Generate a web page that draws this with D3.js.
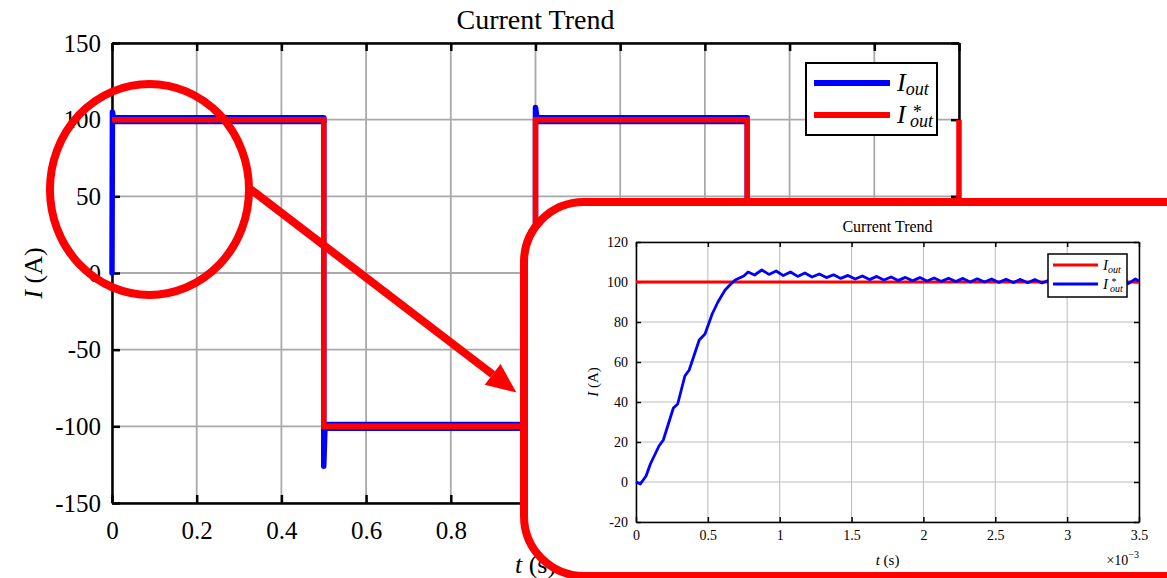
<!DOCTYPE html>
<html>
<head>
<meta charset="utf-8">
<script src="https://cdn.jsdelivr.net/npm/d3@7"></script>
<style>
  body { margin: 0; background: #fff; }
  svg { display: block; font-family: "Liberation Serif", "DejaVu Serif", "Times New Roman", serif; }
  svg text { font-family: "Liberation Serif", "DejaVu Serif", "Times New Roman", serif; }
</style>
</head>
<body>
<svg id="chart" width="1167" height="578"></svg>
<script>
// ---- main plot: reference square wave and measured output current ----
var mainXTicks = [0, 0.2, 0.4, 0.6, 0.8, 1, 1.2, 1.4, 1.6, 1.8, 2];
var mainYTicks = [-150, -100, -50, 0, 50, 100, 150];
var refTime = [0, 0.5, 0.5, 1.0, 1.0, 1.5, 1.5, 2.0, 2.0];
var refCurrent = [100, 100, -100, -100, 100, 100, -100, -100, 100];
var outTime = [0, 0.001, 0.004, 0.5, 0.5, 0.503, 1.0, 1.0, 1.004, 1.5, 1.5, 1.503, 2.0];
var outCurrent = [0, 105, 100, 100, -126, -100, -100, 108, 100, 100, -126, -100, -100];
// ripple envelope of the measured current on each plateau
var bandStart = [0.004, 0.503, 1.004, 1.503];
var bandEnd = [0.5, 1.0, 1.5, 2.0];
var bandLow = [98.8, -101.2, 98.8, -101.2];
var bandHigh = [101.2, -98.8, 101.2, -98.8];

// ---- zoomed inset: start-up transient (time in ms) ----
var zoomXTicks = [0, 0.5, 1, 1.5, 2, 2.5, 3, 3.5];
var zoomYTicks = [-20, 0, 20, 40, 60, 80, 100, 120];
var zoomRefTime = [0, 3.5];
var zoomRefCurrent = [100, 100];
var zoomOutTime = [0, 0.03, 0.07, 0.1, 0.16, 0.19, 0.26, 0.29, 0.34, 0.37, 0.44, 0.48, 0.53, 0.57,
  0.62, 0.66, 0.69, 0.72, 0.75, 0.78,
  0.825, 0.875, 0.925, 0.975, 1.025, 1.075, 1.125, 1.175, 1.225, 1.275, 1.325, 1.375,
  1.425, 1.475, 1.525, 1.575, 1.625, 1.675, 1.725, 1.775, 1.825, 1.875, 1.925, 1.975,
  2.025, 2.075, 2.125, 2.175, 2.225, 2.275, 2.325, 2.375, 2.425, 2.475, 2.525, 2.575,
  2.625, 2.675, 2.725, 2.775, 2.825, 2.875, 2.925, 2.975, 3.025, 3.075, 3.125, 3.175,
  3.225, 3.275, 3.325, 3.375, 3.425, 3.475, 3.5];
var zoomOutCurrent = [0, -1, 3, 9, 18, 21, 37, 39, 53, 56, 71, 74, 84, 90,
  96, 99, 101, 102, 103, 105,
  103.5, 106, 103.8, 105.5, 103.2, 105, 102.8, 104.5, 102.5, 104, 102.2, 103.6,
  101.8, 103.3, 101.5, 103, 101.2, 102.8, 101, 102.5, 100.8, 102.3, 100.6, 102.2,
  100.5, 102, 100.3, 101.9, 100.2, 101.8, 100, 101.6, 100, 101.5, 99.8, 101.4,
  99.7, 101.3, 99.6, 101.2, 99.5, 101, 99.3, 100.8, 99.2, 100.8, 99.1, 100.6,
  99, 100.6, 99, 100.5, 99.2, 101.5, 100.5];

// annotation: ellipse around the start-up and arrow to the inset (data units)
var circleCenter = [0.0885, 54.5];
var circleRadius = [0.235, 68.8];
var arrowFrom = [0.3235, 55.4];
var arrowTo = [0.955, -78];

var svg = d3.select("#chart");
var blue = "#0000ff", red = "#ff0000";
var serif = "'Liberation Serif', 'DejaVu Serif', 'Times New Roman', serif";

// main plot
var x = d3.scaleLinear().domain([0, 2]).range([112, 959]);
var y = d3.scaleLinear().domain([-150, 150]).range([503, 43]);

var main = svg.append("g");

main.append("g").selectAll("line.gx")
  .data(mainXTicks).enter().append("line")
  .attr("x1", function(d) { return x(d); }).attr("x2", function(d) { return x(d); })
  .attr("y1", y(-150)).attr("y2", y(150))
  .attr("stroke", "#a9a9a9").attr("stroke-width", 1.8);
main.append("g").selectAll("line.gy")
  .data(mainYTicks).enter().append("line")
  .attr("y1", function(d) { return y(d); }).attr("y2", function(d) { return y(d); })
  .attr("x1", x(0)).attr("x2", x(2))
  .attr("stroke", "#a9a9a9").attr("stroke-width", 1.8);

function styleAxis(g, width, size) {
  g.selectAll("path.domain").attr("stroke", "#000").attr("stroke-width", width);
  g.selectAll(".tick line").attr("stroke", "#000").attr("stroke-width", width);
  g.selectAll(".tick text").attr("fill", "#000").style("font-size", size + "px")
    .style("font-family", serif);
}

var fmt = function(d) { return String(d); };
// labels from t = 1 on sit under the inset, so they are left blank
var mainXFmt = function(d) { return d < 1 ? String(d) : ""; };

main.append("g").attr("transform", "translate(0," + y(-150) + ")")
  .call(d3.axisBottom(x).tickValues(mainXTicks).tickFormat(mainXFmt).tickSize(-8).tickSizeOuter(0).tickPadding(18))
  .call(styleAxis, 2.5, 25);
main.append("g").attr("transform", "translate(0," + y(150) + ")")
  .call(d3.axisTop(x).tickValues(mainXTicks).tickFormat("").tickSize(-8).tickSizeOuter(0))
  .call(styleAxis, 2.5, 25);
main.append("g").attr("transform", "translate(" + x(0) + ",0)")
  .call(d3.axisLeft(y).tickValues(mainYTicks).tickFormat(fmt).tickSize(-8).tickSizeOuter(0).tickPadding(11))
  .call(styleAxis, 2.5, 25);
main.append("g").attr("transform", "translate(" + x(2) + ",0)")
  .call(d3.axisRight(y).tickValues(mainYTicks).tickFormat("").tickSize(-8).tickSizeOuter(0))
  .call(styleAxis, 2.5, 25);

main.append("text")
  .attr("x", (x(0) + x(2)) / 2).attr("y", 29)
  .attr("text-anchor", "middle").style("font-size", "28px").style("font-family", serif)
  .text("Current Trend");

main.append("text")
  .attr("x", (x(0) + x(2)) / 2).attr("y", 573)
  .attr("text-anchor", "middle").style("font-size", "26px").style("font-family", serif)
  .html("<tspan font-style='italic'>t</tspan> (s)");

main.append("text")
  .attr("transform", "translate(42," + y(0) + ") rotate(-90)")
  .attr("text-anchor", "middle").style("font-size", "26px").style("font-family", serif)
  .html("<tspan font-style='italic'>I</tspan> (A)");

var mainLine = d3.line()
  .x(function(d) { return x(d[0]); })
  .y(function(d) { return y(d[1]); });

var band = d3.area()
  .x(function(d) { return x(d[0]); })
  .y0(function(d) { return y(d[1]); })
  .y1(function(d) { return y(d[2]); });

main.append("g").selectAll("path.band")
  .data(d3.range(bandStart.length)).enter().append("path")
  .attr("d", function(i) {
    return band([[bandStart[i], bandLow[i], bandHigh[i]], [bandEnd[i], bandLow[i], bandHigh[i]]]);
  })
  .attr("fill", blue).attr("stroke", blue).attr("stroke-width", 5.5)
  .attr("stroke-linejoin", "round");

main.append("path")
  .attr("d", mainLine(d3.zip(outTime, outCurrent)))
  .attr("fill", "none").attr("stroke", blue).attr("stroke-width", 5.5)
  .attr("stroke-linejoin", "round").attr("stroke-linecap", "round");

main.append("path")
  .attr("d", mainLine(d3.zip(refTime, refCurrent)))
  .attr("fill", "none").attr("stroke", red).attr("stroke-width", 5.5)
  .attr("stroke-linejoin", "miter");

// main legend
var leg = main.append("g").attr("transform", "translate(806,63)");
leg.append("rect").attr("width", 131).attr("height", 72)
  .attr("fill", "#fff").attr("stroke", "#000").attr("stroke-width", 2);
leg.append("line").attr("x1", 8).attr("x2", 84).attr("y1", 20).attr("y2", 20)
  .attr("stroke", blue).attr("stroke-width", 6);
leg.append("line").attr("x1", 8).attr("x2", 84).attr("y1", 52).attr("y2", 52)
  .attr("stroke", red).attr("stroke-width", 6);
leg.append("text").attr("x", 91).attr("y", 28).style("font-size", "26px").style("font-style", "italic")
  .style("font-family", serif)
  .html("I<tspan dy='4' style='font-size:18px'>out</tspan>");
leg.append("text").attr("x", 91).attr("y", 60).style("font-size", "26px").style("font-style", "italic")
  .style("font-family", serif)
  .html("I<tspan x='106' y='55' style='font-size:18px'>*</tspan><tspan x='104' y='64' style='font-size:18px'>out</tspan>");

// annotation ellipse and arrow
var rxPx = x(circleRadius[0]) - x(0);
var ryPx = y(0) - y(circleRadius[1]);
svg.append("ellipse")
  .attr("cx", x(circleCenter[0])).attr("cy", y(circleCenter[1]))
  .attr("rx", rxPx).attr("ry", ryPx)
  .attr("fill", "none").attr("stroke", red).attr("stroke-width", 8);

var ax0 = x(arrowFrom[0]), ay0 = y(arrowFrom[1]);
var ax1 = x(arrowTo[0]), ay1 = y(arrowTo[1]);
var ang = Math.atan2(ay1 - ay0, ax1 - ax0);
var headLen = 30, headHalf = 13;
var bx = ax1 - headLen * Math.cos(ang), by = ay1 - headLen * Math.sin(ang);
svg.append("line")
  .attr("x1", ax0).attr("y1", ay0).attr("x2", bx).attr("y2", by)
  .attr("stroke", red).attr("stroke-width", 8);
svg.append("polygon")
  .attr("points", [
    [ax1, ay1],
    [bx - headHalf * Math.sin(ang), by + headHalf * Math.cos(ang)],
    [bx + headHalf * Math.sin(ang), by - headHalf * Math.cos(ang)]
  ].join(" "))
  .attr("fill", red);

// inset frame
svg.append("rect")
  .attr("x", 524).attr("y", 202).attr("width", 800).attr("height", 374)
  .attr("rx", 60).attr("ry", 60)
  .attr("fill", "#fff").attr("stroke", red).attr("stroke-width", 8);

// inset plot
var zx = d3.scaleLinear().domain([0, 3.5]).range([636, 1139]);
var zy = d3.scaleLinear().domain([-20, 120]).range([522, 242]);
var inset = svg.append("g");

inset.append("g").selectAll("line")
  .data(zoomXTicks).enter().append("line")
  .attr("x1", function(d) { return zx(d); }).attr("x2", function(d) { return zx(d); })
  .attr("y1", zy(-20)).attr("y2", zy(120))
  .attr("stroke", "#bdbdbd").attr("stroke-width", 1);
inset.append("g").selectAll("line")
  .data(zoomYTicks).enter().append("line")
  .attr("y1", function(d) { return zy(d); }).attr("y2", function(d) { return zy(d); })
  .attr("x1", zx(0)).attr("x2", zx(3.5))
  .attr("stroke", "#bdbdbd").attr("stroke-width", 1);

inset.append("g").attr("transform", "translate(0," + zy(-20) + ")")
  .call(d3.axisBottom(zx).tickValues(zoomXTicks).tickFormat(fmt).tickSize(-5).tickSizeOuter(0).tickPadding(8))
  .call(styleAxis, 1.5, 14);
inset.append("g").attr("transform", "translate(0," + zy(120) + ")")
  .call(d3.axisTop(zx).tickValues(zoomXTicks).tickFormat("").tickSize(-5).tickSizeOuter(0))
  .call(styleAxis, 1.5, 14);
inset.append("g").attr("transform", "translate(" + zx(0) + ",0)")
  .call(d3.axisLeft(zy).tickValues(zoomYTicks).tickFormat(fmt).tickSize(-5).tickSizeOuter(0).tickPadding(8))
  .call(styleAxis, 1.5, 14);
inset.append("g").attr("transform", "translate(" + zx(3.5) + ",0)")
  .call(d3.axisRight(zy).tickValues(zoomYTicks).tickFormat("").tickSize(-5).tickSizeOuter(0))
  .call(styleAxis, 1.5, 14);

inset.append("text")
  .attr("x", (zx(0) + zx(3.5)) / 2).attr("y", 232)
  .attr("text-anchor", "middle").style("font-size", "16px").style("font-family", serif)
  .text("Current Trend");
inset.append("text")
  .attr("x", (zx(0) + zx(3.5)) / 2).attr("y", 565)
  .attr("text-anchor", "middle").style("font-size", "15px").style("font-family", serif)
  .html("<tspan font-style='italic'>t</tspan> (s)");
inset.append("text")
  .attr("x", zx(3.5)).attr("y", 565)
  .attr("text-anchor", "end").style("font-size", "14px").style("font-family", serif)
  .html("\u00d710<tspan dy='-7' style='font-size:10px'>\u22123</tspan>");
inset.append("text")
  .attr("transform", "translate(598," + zy(50) + ") rotate(-90)")
  .attr("text-anchor", "middle").style("font-size", "15px").style("font-family", serif)
  .html("<tspan font-style='italic'>I</tspan> (A)");

var zoomLine = d3.line()
  .x(function(d) { return zx(d[0]); })
  .y(function(d) { return zy(d[1]); });

inset.append("path")
  .attr("d", zoomLine(d3.zip(zoomRefTime, zoomRefCurrent)))
  .attr("fill", "none").attr("stroke", red).attr("stroke-width", 2.8);
inset.append("path")
  .attr("d", zoomLine(d3.zip(zoomOutTime, zoomOutCurrent)))
  .attr("fill", "none").attr("stroke", blue).attr("stroke-width", 2.8)
  .attr("stroke-linejoin", "round");

// inset legend
var zleg = inset.append("g").attr("transform", "translate(1048,254)");
zleg.append("rect").attr("width", 79).attr("height", 43)
  .attr("fill", "#fff").attr("stroke", "#000").attr("stroke-width", 1.5);
zleg.append("line").attr("x1", 5).attr("x2", 50).attr("y1", 11).attr("y2", 11)
  .attr("stroke", red).attr("stroke-width", 3);
zleg.append("line").attr("x1", 5).attr("x2", 50).attr("y1", 30).attr("y2", 30)
  .attr("stroke", blue).attr("stroke-width", 3);
zleg.append("text").attr("x", 55).attr("y", 16).style("font-size", "15px").style("font-style", "italic")
  .style("font-family", serif)
  .html("I<tspan dy='3' style='font-size:10px'>out</tspan>");
zleg.append("text").attr("x", 55).attr("y", 35).style("font-size", "15px").style("font-style", "italic")
  .style("font-family", serif)
  .html("I<tspan x='63' y='31' style='font-size:10px'>*</tspan><tspan x='62' y='38' style='font-size:10px'>out</tspan>");
</script>
</body>
</html>
